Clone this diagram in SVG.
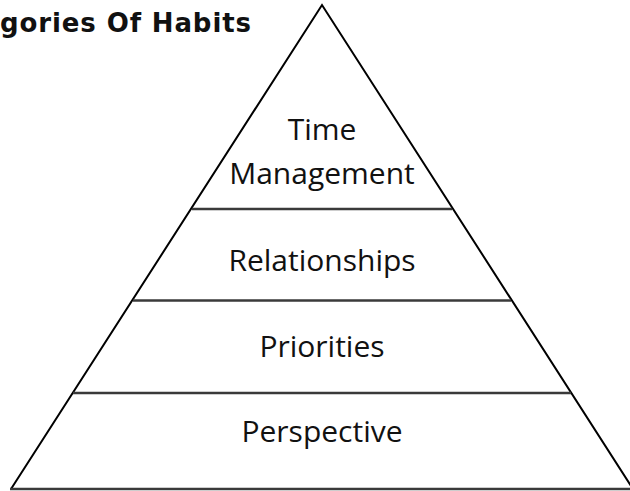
<svg xmlns="http://www.w3.org/2000/svg" width="630" height="491" viewBox="0 0 630 491">
<style>
.t{font-family:"Open Sans","Liberation Sans",sans-serif;font-size:30px;fill:#111;text-anchor:middle}
.title{font-family:"DejaVu Sans","Open Sans",sans-serif;font-size:26px;font-weight:bold;fill:#111}
.div{stroke:#3a3a3a;stroke-width:2.5;fill:none}
.edge{stroke:#000;stroke-width:2;fill:none;stroke-linejoin:miter}
</style>
<rect width="630" height="491" fill="#fff"/>
<text class="title" x="0" y="32" textLength="251" lengthAdjust="spacing">gories Of Habits</text>
<g id="pyramid">
<polyline class="edge" points="11,489 322,5 633,489"/>
<line class="div" x1="10" y1="489" x2="635" y2="489"/>
</g>
<g id="tier-time-management">
<line class="div" x1="192" y1="209" x2="452" y2="209"/>
<text class="t" x="322" y="140">Time</text>
<text class="t" x="322" y="184">Management</text>
</g>
<g id="tier-relationships">
<line class="div" x1="133" y1="300.5" x2="511" y2="300.5"/>
<text class="t" x="322" y="270.5">Relationships</text>
</g>
<g id="tier-priorities">
<line class="div" x1="73" y1="393" x2="571" y2="393"/>
<text class="t" x="322" y="356.5">Priorities</text>
</g>
<g id="tier-perspective">
<text class="t" x="322" y="441.5">Perspective</text>
</g>
<g id="connectors"></g>
</svg>
